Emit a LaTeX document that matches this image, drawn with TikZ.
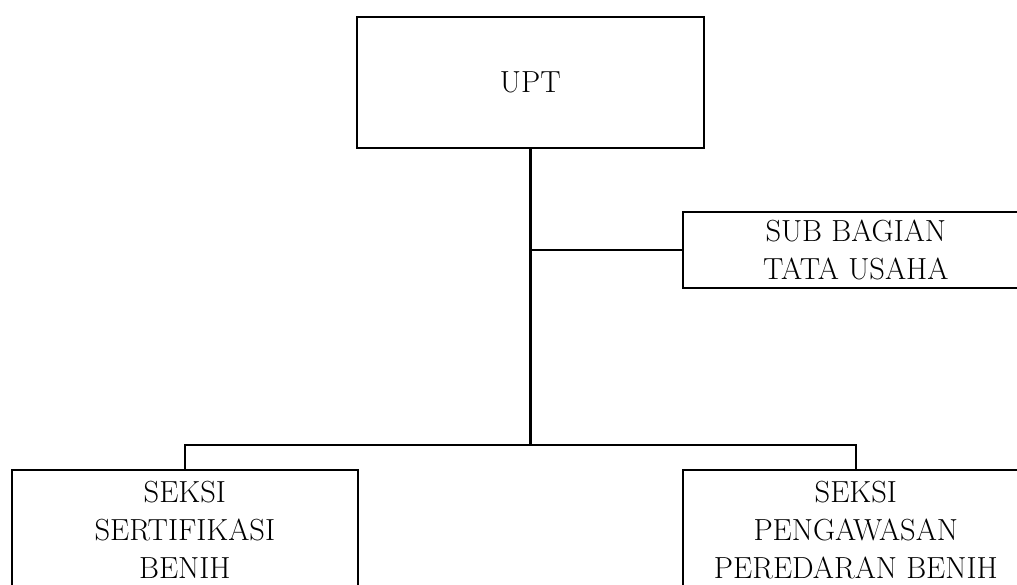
\documentclass[tikz,border=0pt]{standalone}
\begin{document}
\begin{tikzpicture}[x=1pt,y=-1pt,
  box/.style={draw,line width=1.6pt,inner sep=0pt,align=center,font=\fontsize{30.5}{38}\selectfont},
  conn/.style={line width=1.6pt},
  trunk/.style={line width=2.8pt}]
\useasboundingbox (0,0) rectangle (1017,585);
\clip (0,0) rectangle (1017,585);
\node[box,anchor=north west,minimum width=347pt,minimum height=131pt] (upt) at (356,16) {UPT};
\node[box,anchor=north west,minimum width=346pt,minimum height=76pt] (sub) at (682,211) {SUB BAGIAN\\TATA USAHA};
\node[box,anchor=north west] (sl) at (11,469)
  {\parbox[c][150pt][t]{346pt}{\centering\rule{0pt}{33pt}SEKSI\\SERTIFIKASI\\BENIH}};
\node[box,anchor=north west] (sr) at (682,469)
  {\parbox[c][150pt][t]{346pt}{\centering\rule{0pt}{33pt}SEKSI\\PENGAWASAN\\PEREDARAN BENIH}};
\coordinate (bar) at (upt.south |- 0,445);
\draw[trunk] (upt.south) -- (bar);
\draw[conn] (upt.south |- sub.west) -- (sub.west);
\draw[conn] (sl.north) |- (bar) -| (sr.north);
\end{tikzpicture}
\end{document}
